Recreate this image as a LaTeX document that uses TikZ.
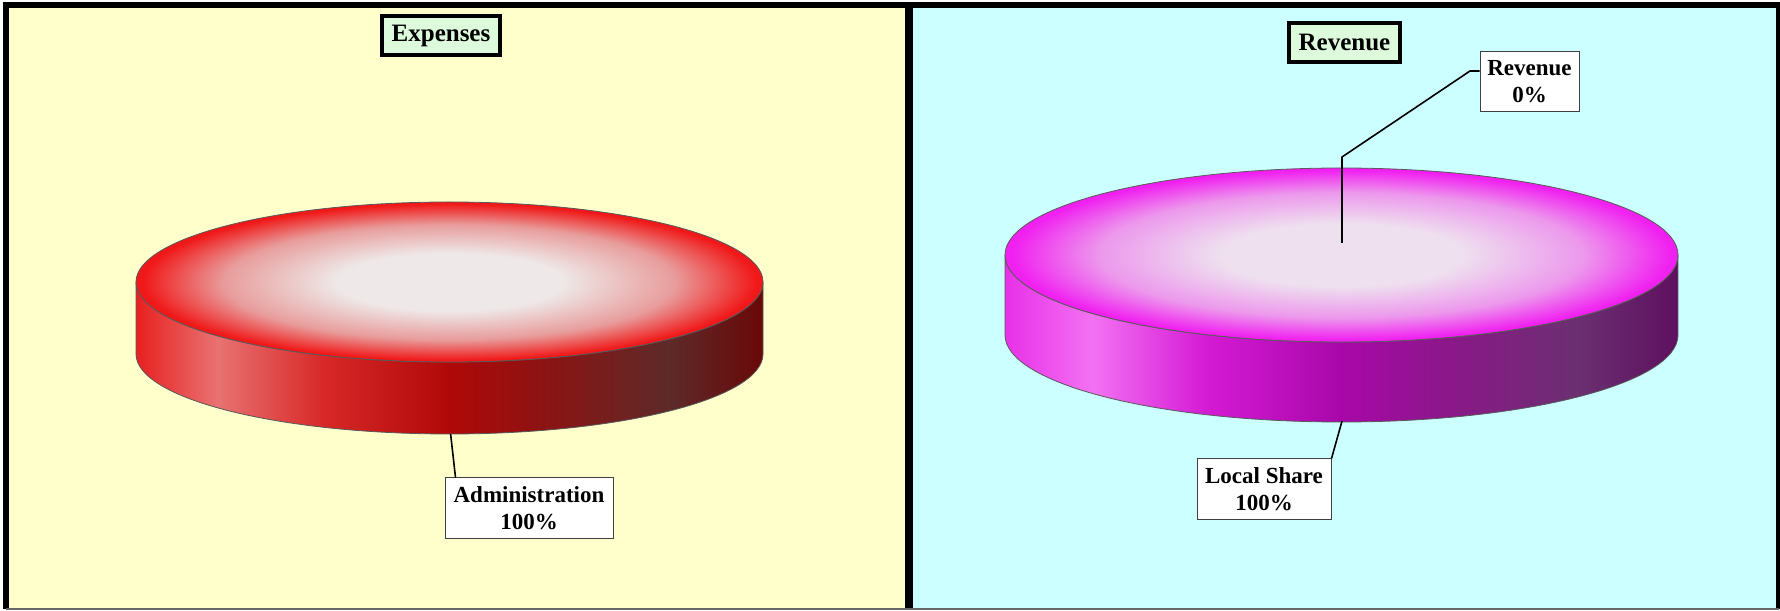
\documentclass[tikz,border=0pt]{standalone}
\usepackage{fontspec}
\setmainfont{Liberation Serif}

\definecolor{leftbg}{HTML}{FFFFCC}
\definecolor{rightbg}{HTML}{CCFFFF}
\definecolor{titlefill}{HTML}{DDFADD}
% red slice colours
\definecolor{redhi}{HTML}{EEE8E8}
\definecolor{redmid}{HTML}{E89C9C}
\definecolor{redrim}{HTML}{F01818}
\definecolor{redsA}{HTML}{E82020}
\definecolor{redsB}{HTML}{E87272}
\definecolor{redsC}{HTML}{D82828}
\definecolor{redsD}{HTML}{B00808}
\definecolor{redsE}{HTML}{8A1414}
\definecolor{redsF}{HTML}{5E2A2A}
\definecolor{redsG}{HTML}{6A0808}
% magenta slice colours
\definecolor{maghi}{HTML}{EEE0EE}
\definecolor{magmid}{HTML}{EC98EC}
\definecolor{magrim}{HTML}{F020F0}
\definecolor{magsA}{HTML}{E830E8}
\definecolor{magsB}{HTML}{F272F2}
\definecolor{magsC}{HTML}{D41AD4}
\definecolor{magsD}{HTML}{A808A8}
\definecolor{magsE}{HTML}{8A1888}
\definecolor{magsF}{HTML}{6A3070}
\definecolor{magsG}{HTML}{5E1060}

\pgfdeclareradialshading{redtop}{\pgfpoint{0bp}{0bp}}{color(0bp)=(redhi); color(9bp)=(redhi); color(18bp)=(redmid); color(24.5bp)=(redrim); color(50bp)=(redrim)}
\pgfdeclareradialshading{magtop}{\pgfpoint{0bp}{0bp}}{color(0bp)=(maghi); color(9bp)=(maghi); color(18bp)=(magmid); color(24.5bp)=(magrim); color(50bp)=(magrim)}
\pgfdeclarehorizontalshading{redside}{100bp}{color(0bp)=(redsA); color(25bp)=(redsA); color(31.5bp)=(redsB); color(40bp)=(redsC); color(50bp)=(redsD); color(58bp)=(redsE); color(67.5bp)=(redsF); color(75bp)=(redsG); color(100bp)=(redsG)}
\pgfdeclarehorizontalshading{magside}{100bp}{color(0bp)=(magsA); color(25bp)=(magsA); color(31.5bp)=(magsB); color(40bp)=(magsC); color(50bp)=(magsD); color(58bp)=(magsE); color(67.5bp)=(magsF); color(75bp)=(magsG); color(100bp)=(magsG)}

\begin{document}
\begin{tikzpicture}[x=0.5pt, y=0.5pt,
    charttitle/.style={draw, line width=2pt, fill=titlefill, font=\bfseries\fontsize{12.5}{14}\selectfont, inner sep=0pt, minimum height=19.5pt},
    slicelabel/.style={draw=black!75, line width=0.5pt, fill=white, font=\bfseries\fontsize{11.5}{13.6}\selectfont, align=center, inner sep=0pt, minimum height=30pt},
    rim/.style={draw=black!65, line width=0.4pt},
    leader/.style={line width=0.8pt}
]
    \useasboundingbox (0,0) rectangle (1780,610);

    % Panels
    \fill[leftbg] (6,1.5) rectangle (909,605);
    \fill[rightbg] (909,1.5) rectangle (1779,605);
    \draw[line width=2.8pt] (6,1.5) -- (6,605) -- (1779,605) -- (1779,1.5);
    \draw[line width=4pt] (909,1.5) -- (909,605);
    \draw[black!60, line width=1pt] (6,1.5) -- (1779,1.5);

    % Expenses pie
    \shade[shading=redside, rim] (136,328) -- (136,256)
        arc[start angle=180, end angle=360, x radius=313.5, y radius=80]
        -- (763,328) arc[start angle=0, end angle=-180, x radius=313.5, y radius=80] -- cycle;
    \shade[shading=redtop, rim] (449.5,328) ellipse [x radius=313.5, y radius=80];
    \coordinate (adminpt) at (450.6,176);
    \node[charttitle, minimum width=59pt] (expenses) at (441,574) {Expenses};
    \node[slicelabel, minimum width=84pt] (admin) at (529,102) {Administration\\100\%};
    \draw[leader] (adminpt) -- ([xshift=5.5pt]admin.north west);

    % Revenue pie
    \shade[shading=magside, rim] (1005,355) -- (1005,275)
        arc[start angle=180, end angle=360, x radius=336.5, y radius=87]
        -- (1678,355) arc[start angle=0, end angle=-180, x radius=336.5, y radius=87] -- cycle;
    \shade[shading=magtop, rim] (1341.5,355) ellipse [x radius=336.5, y radius=87];
    \coordinate (sharept) at (1342,189);
    \coordinate (revpt) at (1342,367);
    \coordinate (revbend) at (1342,453);
    \coordinate (revknee) at (1470,539);
    \node[charttitle, minimum width=55.5pt] (revenue) at (1344.5,567.5) {Revenue};
    \node[slicelabel, minimum width=67pt] (share) at (1264,121) {Local Share\\100\%};
    \node[slicelabel, minimum width=49.5pt] (rev) at (1529.5,528.5) {Revenue\\0\%};
    \draw[leader] (sharept) -- (share.north east);
    \draw[leader] (revpt) -- (revbend) -- (revknee) -- ([yshift=5.25pt]rev.west);
\end{tikzpicture}
\end{document}
